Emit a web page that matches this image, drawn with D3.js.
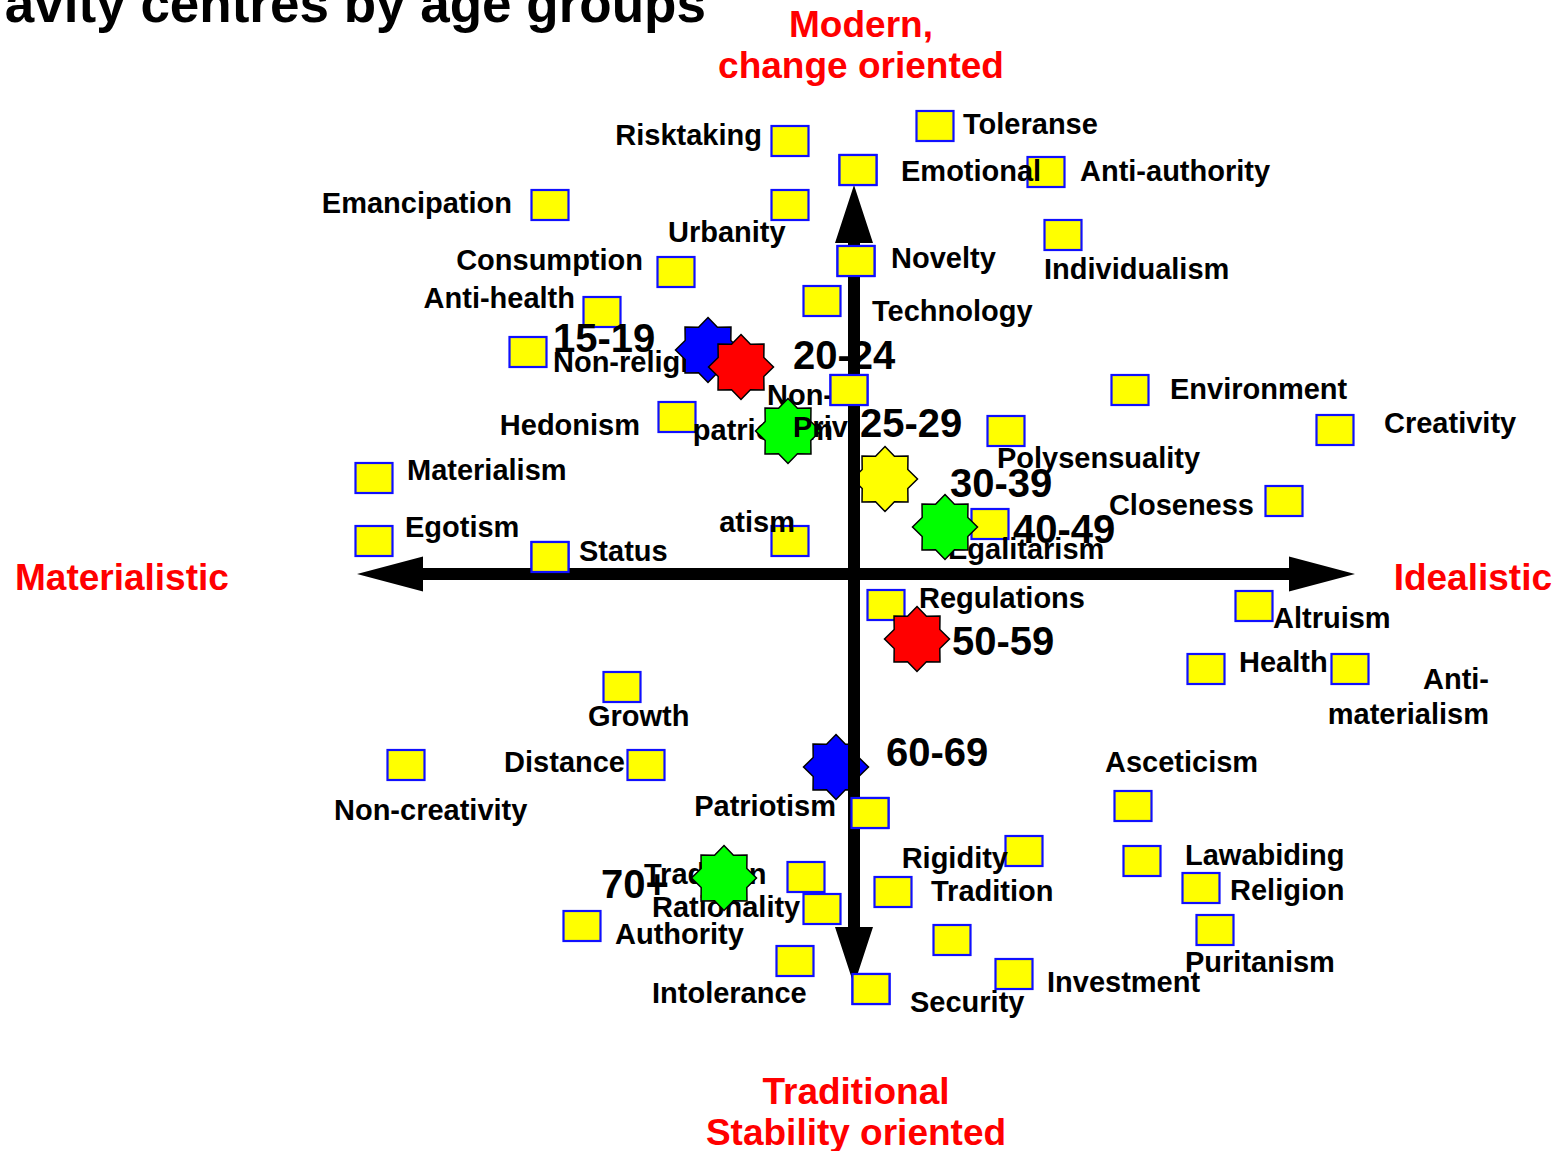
<!DOCTYPE html>
<html>
<head>
<meta charset="utf-8">
<title>Gravity centres by age groups</title>
<script src="https://d3js.org/d3.v7.min.js"></script>
<style>
  body { margin: 0; background: #fff; }
  text { font-family: "Liberation Sans", Arial, sans-serif; font-weight: bold; }
</style>
</head>
<body>
<div id="chart"></div>
<script>
// values on the two value axes, -50 .. 50 (materialistic/idealistic, traditional/modern)
var itemNames = ["Toleranse", "Risktaking", "Emotional", "Anti-authority", "Emancipation", "Urbanity",
  "Individualism", "Novelty", "Consumption", "Technology", "Anti-health", "Non-religious",
  "Non-\npatriotism", "Hedonism", "Environment", "Creativity", "Polysensuality", "Materialism",
  "Egotism", "Status", "atism", "Egalitarism", "Closeness", "Regulations", "Altruism", "Health",
  "Anti-\nmaterialism", "Growth", "Distance", "Non-creativity", "Asceticism", "Patriotism",
  "Rigidity", "Lawabiding", "Tradition", "Religion", "Tradition", "Rationality", "Authority",
  "Puritanism", "", "Intolerance", "Investment", "Security"];
var itemX = [8.1, -6.4, 0.4, 19.2, -30.4, -6.4, 20.9, 0.2, -17.8, -3.2, -25.2, -32.6,
  -0.5, -17.7, 27.6, 48.1, 15.2, -48, -48, -30.4, -6.4, 13.6, 43, 3.2, 40, 35.2,
  49.6, -23.2, -20.8, -44.8, 27.9, 1.6, 17, 28.8, 3.9, 34.7, -4.8, -3.2, -27.2,
  36.1, 9.8, -5.9, 16, 1.7];
var itemY = [44.8, 43.3, 40.4, 40.2, 36.9, 36.9, 33.9, 31.3, 30.2, 27.3, 26.2, 22.2,
  18.4, 15.7, 18.4, 14.4, 14.3, 9.6, 3.3, 1.7, 3.3, 5.0, 7.3, -3.1, -3.2, -9.5,
  -9.5, -11.3, -19.1, -19.1, -23.2, -23.9, -27.7, -28.7, -31.8, -31.4, -30.3, -33.5, -35.2,
  -35.6, -36.6, -38.7, -40, -41.5];
// where each label sits (same units), and which end of the text is at that point
var labelX = [10.9, -9.2, 4.7, 22.6, -34.2, -18.6, 19, 3.7, -21.1, 1.8, -27.9, -30.1,
  -2.1, -21.4, 31.6, 53, 14.3, -44.7, -44.9, -27.5, -5.9, 9.4, 40, 6.5, 41.9, 38.5,
  63.5, -26.6, -22.9, -52, 25.1, -1.8, 15.4, 33.1, 7.7, 37.6, -21, -20.2, -23.9,
  33.1, 0, -20.2, 19.3, 5.6];
var labelY = [44.0, 42.9, 39.3, 39.3, 36.1, 33.2, 29.5, 30.6, 30.4, 25.3, 26.6, 20.2,
  16.9, 13.9, 17.5, 14.1, 10.6, 9.4, 3.7, 1.3, 4.2, 1.5, 5.9, -3.4, -5.4, -9.8,
  -11.5, -15.2, -19.8, -24.6, -19.8, -24.2, -29.4, -29.1, -32.7, -32.6, -31, -34.3, -37,
  -39.8, 0, -42.9, -41.8, -43.8];
var labelEnd = ["s", "e", "s", "s", "e", "s", "s", "s", "e", "s", "e", "s",
  "e", "e", "s", "s", "s", "s", "s", "s", "e", "s", "e", "s", "s", "s",
  "e", "s", "e", "s", "s", "e", "e", "s", "s", "s", "s", "s", "s",
  "s", "s", "s", "s", "s"];

// gravity centres of the age groups
var ageGroups = ["15-19", "20-24", "25-29", "30-39", "40-49", "50-59", "60-69", "70+"];
var ageX = [-14.6, -11.3, -6.6, 3.1, 9.1, 6.3, -1.8, -13];
var ageY = [22.4, 20.7, 14.3, 9.5, 4.7, -6.5, -19.3, -30.4];
var ageColors = ["#0000ff", "#ff0000", "#00ff00", "#ffff00", "#00ff00", "#ff0000", "#0000ff", "#00ff00"];
var ageLabelX = [-30.1, -6.1, 0.6, 9.6, 15.9, 9.8, 3.2, -25.3];
var ageLabelY = [22.2, 20.5, 13.7, 7.7, 3.1, -8.1, -19.2, -32.4];

// pole names
var poleNames = ["Modern,\nchange oriented", "Traditional\nStability oriented", "Materialistic", "Idealistic"];
var poleX = [0.7, 0.2, -83.9, 69.8];
var poleY = [53.7, -53, -1.6, -1.6];
var poleAnchor = ["middle", "middle", "start", "end"];

var width = 1561, height = 1151;
var x = d3.scaleLinear().domain([-50, 50]).range([354, 1354]);
var y = d3.scaleLinear().domain([-50, 50]).range([1074, 74]);

var svg = d3.select("#chart").append("svg")
  .attr("width", width)
  .attr("height", height);

svg.append("rect").attr("width", width).attr("height", height).attr("fill", "#fff");

// title, cut off at the top-left like in the slide
svg.append("text")
  .text("Gravity centres by age groups")
  .attr("x", -57)
  .attr("y", 22)
  .attr("font-size", 53);

var items = itemNames.map(function (n, i) {
  return { name: n, x: itemX[i], y: itemY[i], lx: labelX[i], ly: labelY[i], end: labelEnd[i] };
});

function drawSquares(data) {
  svg.selectAll(null)
    .data(data)
    .enter().append("rect")
    .attr("x", function (d) { return x(d.x) - 18.5; })
    .attr("y", function (d) { return y(d.y) - 15; })
    .attr("width", 37)
    .attr("height", 30)
    .attr("fill", "#ffff00")
    .attr("stroke", "#1010ff")
    .attr("stroke-width", 2.2);
}

// value squares
drawSquares(items);

var labels = svg.selectAll("text.item")
  .data(items.filter(function (d) { return d.name !== ""; }))
  .enter().append("text")
  .attr("class", "item")
  .attr("font-size", 29)
  .attr("fill", "#000")
  .attr("text-anchor", function (d) { return d.end === "e" ? "end" : "start"; });

labels.each(function (d) {
  var lines = d.name.split("\n");
  var t = d3.select(this);
  lines.forEach(function (line, k) {
    t.append("tspan")
      .attr("x", x(d.lx))
      .attr("y", y(d.ly) + k * 35)
      .text(line);
  });
});

// age group stars
function starPath(cx, cy, R) {
  var pts = [];
  for (var k = 0; k < 16; k++) {
    var a = -Math.PI / 2 + k * Math.PI / 8;
    var r = k % 2 === 0 ? R : R * 0.76;
    pts.push([cx + r * Math.cos(a), cy + r * Math.sin(a)]);
  }
  return d3.line()(pts) + "Z";
}

var ages = ageGroups.map(function (g, i) {
  return { name: g, x: ageX[i], y: ageY[i], color: ageColors[i], lx: ageLabelX[i], ly: ageLabelY[i] };
});

svg.selectAll("path.star")
  .data(ages)
  .enter().append("path")
  .attr("class", "star")
  .attr("d", function (d) { return starPath(x(d.x), y(d.y), 32.5); })
  .attr("fill", function (d) { return d.color; })
  .attr("stroke", "#000")
  .attr("stroke-width", 1.5);

svg.selectAll("text.age")
  .data(ages)
  .enter().append("text")
  .attr("class", "age")
  .attr("x", function (d) { return x(d.lx); })
  .attr("y", function (d) { return y(d.ly); })
  .attr("font-size", 40)
  .text(function (d) { return d.name; });

// leftover piece of a label that sits on top of the 25-29 star
svg.append("text")
  .attr("x", x(-6.1))
  .attr("y", y(13.7))
  .attr("font-size", 29)
  .text("Priv");

// axes with arrow heads
function arrow(x1, y1, x2, y2, headLen, headHalf, shaft) {
  var px1 = x(x1), py1 = y(y1), px2 = x(x2), py2 = y(y2);
  var len = Math.hypot(px2 - px1, py2 - py1);
  var ux = (px2 - px1) / len, uy = (py2 - py1) / len;
  var nx = -uy, ny = ux;
  var pts = [
    [px1 + ux * headLen, py1 + uy * headLen],
    [px1 + ux * headLen + nx * headHalf, py1 + uy * headLen + ny * headHalf],
    [px1, py1],
    [px1 + ux * headLen - nx * headHalf, py1 + uy * headLen - ny * headHalf],
    [px1 + ux * headLen - nx * shaft, py1 + uy * headLen - ny * shaft],
    [px2 - ux * headLen - nx * shaft, py2 - uy * headLen - ny * shaft],
    [px2 - ux * headLen - nx * headHalf, py2 - uy * headLen - ny * headHalf],
    [px2, py2],
    [px2 - ux * headLen + nx * headHalf, py2 - uy * headLen + ny * headHalf],
    [px2 - ux * headLen + nx * shaft, py2 - uy * headLen + ny * shaft],
    [px1 + ux * headLen + nx * shaft, py1 + uy * headLen + ny * shaft]
  ];
  svg.append("path")
    .attr("d", d3.line()(pts) + "Z")
    .attr("fill", "#000");
}
arrow(-49.7, 0, 50.1, 0, 66, 17.5, 6);
arrow(0, 38.9, 0, -41.1, 58, 19, 6);

// squares that sit on an axis stay on top of it
drawSquares(items.filter(function (d) {
  return Math.abs(x(d.x) - x(0)) < 25 || Math.abs(y(d.y) - y(0)) < 21;
}));

// pole names in red
poleNames.forEach(function (p, i) {
  var t = svg.append("text")
    .attr("font-size", 37)
    .attr("fill", "#ff0000")
    .attr("text-anchor", poleAnchor[i]);
  p.split("\n").forEach(function (line, k) {
    t.append("tspan")
      .attr("x", x(poleX[i]))
      .attr("y", y(poleY[i]) + k * 41)
      .text(line);
  });
});
</script>
</body>
</html>
